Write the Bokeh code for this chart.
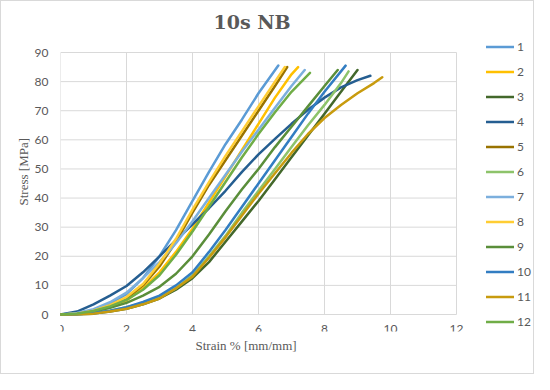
from bokeh.plotting import figure
from bokeh.models import Range1d, FixedTicker, Legend, LegendItem, Title
from bokeh.embed import file_html
from bokeh.resources import INLINE

title_text = "10s NB"
x_label = "Strain % [mm/mm]"
y_label = "Stress [MPa]"
x_ticks = [0, 2, 4, 6, 8, 10, 12]
y_ticks = [0, 10, 20, 30, 40, 50, 60, 70, 80, 90]
series_names = ["1", "2", "3", "4", "5", "6", "7", "8", "9", "10", "11", "12"]
colors = ["#5B9BD5", "#FFC000", "#43682B", "#255E91", "#997300", "#8DC36A",
          "#7CAFDD", "#FFCD33", "#5A8E3A", "#327DC2", "#C89B0E", "#70AD47"]

strain_1 = [0, 0.5, 1, 1.5, 2, 2.5, 3, 3.5, 4, 4.5, 5, 5.5, 6, 6.6]
stress_1 = [0, 0.4, 1.5, 3.8, 7, 12.5, 20, 29, 39, 49, 58.5, 67, 76, 85.5]

strain_2 = [0, 0.5, 1, 1.5, 2, 2.5, 3, 3.5, 4, 4.5, 5, 5.5, 6, 6.5, 7, 7.2]
stress_2 = [0, 0.3, 1, 2.5, 4.8, 9, 14.5, 21.5, 29.5, 38.5, 47.5, 56.5, 65.5, 74.5, 82.5, 85]

strain_3 = [0, 0.5, 1, 1.5, 2, 2.5, 3, 3.5, 4, 4.5, 5, 5.5, 6, 6.5, 7, 7.5, 8, 8.5, 9]
stress_3 = [0, 0.1, 0.3, 1, 2, 3.5, 5.5, 8.5, 12.5, 18, 25, 32, 39, 46.5, 54, 61.5, 69, 76.5, 84]

strain_4 = [0, 0.5, 1, 1.5, 2, 2.5, 3, 3.5, 4, 4.5, 5, 5.5, 6, 6.5, 7, 7.5, 8, 8.5, 9, 9.39]
stress_4 = [0, 1, 3.5, 6.5, 9.8, 14.5, 20, 25.5, 31, 36.5, 42.5, 49, 55, 60.3, 65.5, 70.3, 74.5, 78, 80.5, 82]

strain_5 = [0, 0.5, 1, 1.5, 2, 2.5, 3, 3.5, 4, 4.5, 5, 5.5, 6, 6.5, 6.87]
stress_5 = [0, 0.3, 1.2, 3, 5.5, 10, 16.5, 25, 35, 44.5, 53, 61.5, 70, 78.5, 85]

strain_6 = [0, 0.5, 1, 1.5, 2, 2.5, 3, 3.5, 4, 4.5, 5, 5.5, 6, 6.5, 7, 7.5, 8, 8.5, 8.73]
stress_6 = [0, 0.1, 0.5, 1.3, 2.5, 4, 6, 9, 13.5, 20, 27, 35, 42.5, 50, 57.5, 65, 72, 79.5, 83.5]

strain_7 = [0, 0.5, 1, 1.5, 2, 2.5, 3, 3.5, 4, 4.5, 5, 5.5, 6, 6.5, 7, 7.4]
stress_7 = [0, 0.5, 1.8, 4.2, 7.5, 12.5, 18, 24.5, 32, 40, 48, 56, 63.5, 71, 78.5, 84]

strain_8 = [0, 0.5, 1, 1.5, 2, 2.5, 3, 3.5, 4, 4.5, 5, 5.5, 6, 6.5, 6.8]
stress_8 = [0, 0.3, 1.3, 3.2, 6, 10.5, 17.5, 26, 36, 45.5, 54.5, 63, 71.5, 80, 85]

strain_9 = [0, 0.5, 1, 1.5, 2, 2.5, 3, 3.5, 4, 4.5, 5, 5.5, 6, 6.5, 7, 7.5, 8, 8.4]
stress_9 = [0, 0.2, 1, 2.3, 4, 6.5, 9.5, 14, 20, 27.5, 35.5, 43, 50, 57.5, 64.5, 71.5, 78.5, 84]

strain_10 = [0, 0.5, 1, 1.5, 2, 2.5, 3, 3.5, 4, 4.5, 5, 5.5, 6, 6.5, 7, 7.5, 8, 8.64]
stress_10 = [0, 0.1, 0.5, 1.3, 2.5, 4.3, 6.5, 10, 14.5, 21.5, 29, 37, 45, 53, 61, 69, 76.5, 85.5]

strain_11 = [0, 0.5, 1, 1.5, 2, 2.5, 3, 3.5, 4, 4.5, 5, 5.5, 6, 6.5, 7, 7.5, 8, 8.5, 9, 9.5, 9.75]
stress_11 = [0, 0.1, 0.3, 1, 2, 3.5, 5.5, 9, 13, 19.5, 26.5, 34, 41.5, 48.5, 55.5, 62, 67.5, 72, 76, 79.5, 81.5]

strain_12 = [0, 0.5, 1, 1.5, 2, 2.5, 3, 3.5, 4, 4.5, 5, 5.5, 6, 6.5, 7, 7.56]
stress_12 = [0, 0.3, 1.2, 2.8, 5, 8.5, 13.5, 20.5, 28.5, 37, 45.5, 54, 62, 69.5, 76.5, 83]

strains = [strain_1, strain_2, strain_3, strain_4, strain_5, strain_6,
           strain_7, strain_8, strain_9, strain_10, strain_11, strain_12]
stresses = [stress_1, stress_2, stress_3, stress_4, stress_5, stress_6,
            stress_7, stress_8, stress_9, stress_10, stress_11, stress_12]

GRID = "#D9D9D9"
TXT = "#595959"

# layout (pixels)
W, H = 534, 374
B_LEFT, B_RIGHT, B_TOP, B_BOTTOM = 59, 2, 33, 44
DATA_W = 396          # pixel width of the 0..12 strain span
DATA_TOP_OFF = 18     # pixels from frame top to the 90 line
DATA_H = 262          # pixel height of the 0..90 stress span
frame_w = W - B_LEFT - B_RIGHT
frame_h = H - B_TOP - B_BOTTOM
xspan = x_ticks[-1] - x_ticks[0]
yspan = y_ticks[-1] - y_ticks[0]
x_end = x_ticks[0] + frame_w * xspan / DATA_W
y_end = y_ticks[-1] + DATA_TOP_OFF * yspan / DATA_H
y_start = y_ticks[0] - (frame_h - DATA_TOP_OFF - DATA_H) * yspan / DATA_H

p = figure(width=W, height=H, x_range=Range1d(x_ticks[0], x_end),
           y_range=Range1d(y_start, y_end),
           output_backend="svg", toolbar_location=None,
           min_border_left=B_LEFT, min_border_right=B_RIGHT,
           min_border_top=B_TOP, min_border_bottom=B_BOTTOM)
p.styles = {"border": "1px solid #D9D9D9", "box-sizing": "border-box"}

p.title.text = title_text
p.title.text_font = "DejaVu Serif"
p.title.text_font_size = "19px"
p.title.text_font_style = "bold"
p.title.text_color = TXT
p.title.align = "left"
p.title.offset = 153
p.title.standoff = 4

p.outline_line_color = None
p.grid.visible = False
p.background_fill_color = "white"
p.border_fill_color = "white"

# plot-area grid drawn from the tick lists
p.segment(x0=x_ticks, y0=[y_ticks[0]] * len(x_ticks), x1=x_ticks, y1=[y_ticks[-1]] * len(x_ticks),
          line_color=GRID, line_width=1)
p.segment(x0=[x_ticks[0]] * len(y_ticks), y0=y_ticks, x1=[x_ticks[-1]] * len(y_ticks), y1=y_ticks,
          line_color=GRID, line_width=1)

p.xaxis.ticker = FixedTicker(ticks=x_ticks)
p.yaxis.ticker = FixedTicker(ticks=y_ticks)
p.xaxis.bounds = (x_ticks[0], x_ticks[-1])
p.yaxis.bounds = (y_ticks[0], y_ticks[-1])
p.xaxis.fixed_location = y_ticks[0]

for ax in (p.xaxis, p.yaxis):
    ax.axis_line_color = None
    ax.major_tick_line_color = None
    ax.minor_tick_line_color = None
    ax.major_tick_out = 0
    ax.major_tick_in = 0
    ax.major_label_text_font = "Lato"
    ax.major_label_text_font_size = "12px"
    ax.major_label_text_color = TXT
p.xaxis.major_label_standoff = 10
p.yaxis.major_label_standoff = 12

# axis titles placed as side titles so their position matches the chart
xt = Title(text=x_label, align="left", offset=135, standoff=9,
           text_font="Liberation Serif", text_font_size="13px",
           text_font_style="normal", text_color=TXT)
p.add_layout(xt, "below")
yt = Title(text=y_label, align="left", offset=126, standoff=2,
           text_font="Liberation Serif", text_font_size="13px",
           text_font_style="normal", text_color=TXT)
p.add_layout(yt, "left")

items = []
for name, xs, ys, c in zip(series_names, strains, stresses, colors):
    r = p.line(xs, ys, line_color=c, line_width=2.5, line_cap="round", line_join="round")
    items.append(LegendItem(label=name, renderers=[r]))

legend = Legend(items=items, location=(DATA_W + 30, -3), padding=0, margin=0, spacing=0,
                glyph_height=25, label_height=25, glyph_width=28, label_standoff=3,
                background_fill_alpha=0, border_line_alpha=0,
                label_text_font="Lato", label_text_font_size="12px", label_text_color=TXT)
p.add_layout(legend)

open("out.html", "w").write(file_html(p, INLINE))
